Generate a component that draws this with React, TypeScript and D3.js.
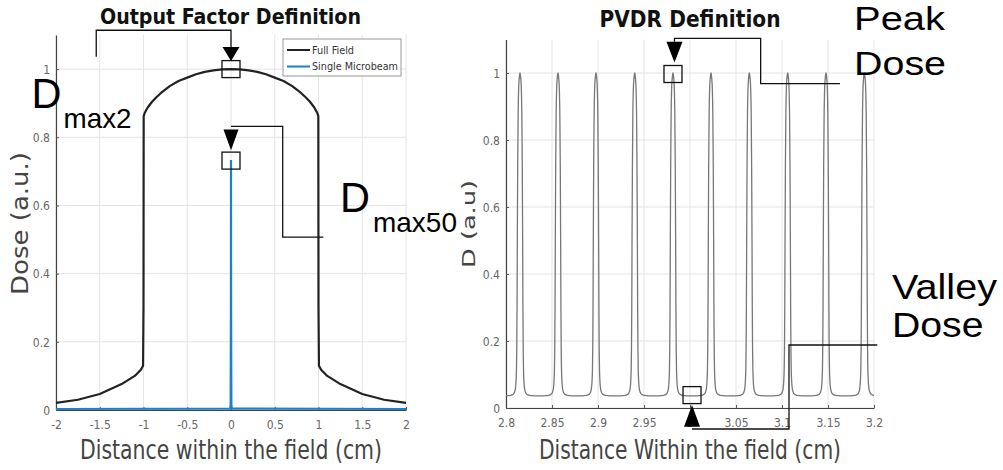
import React, { useEffect, useRef } from "react";
import * as d3 from "d3";

// ---- data ----
const fullFieldX = [
  -2, -1.75, -1.5, -1.25, -1.1, -1.03, -1.005, -1.0, -0.998, -0.985, -0.97, -0.95, -0.9, -0.85,
  -0.8, -0.7, -0.6, -0.5, -0.4, -0.3, -0.2, -0.1, 0, 0.1, 0.2, 0.3, 0.4, 0.5, 0.6, 0.7, 0.8, 0.85,
  0.9, 0.95, 0.97, 0.985, 0.998, 1.0, 1.005, 1.03, 1.1, 1.25, 1.5, 1.75, 2,
];
const fullFieldDose = [
  0.021, 0.03, 0.047, 0.076, 0.1, 0.118, 0.13, 0.3, 0.862, 0.872, 0.879, 0.888, 0.905, 0.918,
  0.93, 0.95, 0.965, 0.975, 0.985, 0.992, 0.996, 0.999, 1.0, 0.999, 0.996, 0.992, 0.985, 0.975,
  0.965, 0.95, 0.93, 0.918, 0.905, 0.888, 0.879, 0.872, 0.862, 0.3, 0.13, 0.118, 0.1, 0.076,
  0.047, 0.03, 0.021,
];
const microbeamX = [-2, -0.01, -0.004, -0.001, 0, 0.001, 0.004, 0.01, 2];
const microbeamDose = [0.003, 0.004, 0.015, 0.3, 0.733, 0.3, 0.015, 0.004, 0.003];

const peakCenters = [
  2.8152, 2.8565, 2.8978, 2.9399, 2.9815, 3.0228, 3.0645, 3.1062, 3.1478, 3.1895,
];
// half profile of one microbeam peak: distance from centre (cm) and dose
const peakOffset = [
  0, 0.0008, 0.0015, 0.002, 0.0025, 0.0029, 0.0032, 0.0035, 0.0038, 0.0043, 0.005, 0.006,
  0.0075, 0.01, 0.0208,
];
const peakDose = [
  1.0, 0.985, 0.95, 0.88, 0.72, 0.5, 0.3, 0.18, 0.12, 0.08, 0.058, 0.047, 0.041, 0.038, 0.036,
];
const valleyX = 3.0022;
const valleyDose = 0.037;

const leftXTicks = [-2, -1.5, -1, -0.5, 0, 0.5, 1, 1.5, 2];
const leftYTicks = [0, 0.2, 0.4, 0.6, 0.8, 1];
const rightXTicks = [2.8, 2.85, 2.9, 2.95, 3, 3.05, 3.1, 3.15, 3.2];
const rightYTicks = [0, 0.2, 0.4, 0.6, 0.8, 1];

const legendLabels = ["Full Field", "Single Microbeam"];

const W = 1003;
const H = 470;
const FULL_COLOR = "#222";
const BEAM_COLOR = "#1f7fcf";
const TEXT_FONT = "'Liberation Sans', Arial, sans-serif";
const COND_FONT = "'DejaVu Sans Condensed', 'DejaVu Sans', sans-serif";

const App: React.FC = () => {
  const svgRef = useRef<SVGSVGElement | null>(null);

  useEffect(() => {
    if (!svgRef.current) return;
    const svg = d3.select(svgRef.current);
    svg.selectAll("*").remove();

    const xL = d3.scaleLinear().domain([-2, 2]).range([56, 406]);
    const yL = d3.scaleLinear().domain([0, 1.1]).range([410, 35]);
    const xR = d3.scaleLinear().domain([2.8, 3.2]).range([506, 874]);
    const yR = d3.scaleLinear().domain([0, 1.1]).range([408, 39.5]);

    const fmt = (d: number) => `${d}`;

    const drawFrame = (
      x: d3.ScaleLinear<number, number>,
      y: d3.ScaleLinear<number, number>,
      xt: number[],
      yt: number[]
    ) => {
      const [x0, x1] = x.range();
      const [y0, y1] = y.range();
      const g = svg.append("g");
      // grid
      g.selectAll(".gx")
        .data(xt)
        .join("line")
        .attr("x1", (d) => x(d))
        .attr("x2", (d) => x(d))
        .attr("y1", y0)
        .attr("y2", y1)
        .attr("stroke", "#e4e4e4")
        .attr("stroke-width", 1);
      g.selectAll(".gy")
        .data(yt)
        .join("line")
        .attr("x1", x0)
        .attr("x2", x1)
        .attr("y1", (d) => y(d))
        .attr("y2", (d) => y(d))
        .attr("stroke", "#e4e4e4")
        .attr("stroke-width", 1);

      // axes
      const ax = g
        .append("g")
        .attr("transform", `translate(0,${y0})`)
        .call(d3.axisBottom(x).tickValues(xt).tickFormat(fmt as any).tickSizeInner(-3).tickSizeOuter(0).tickPadding(10));
      const ay = g
        .append("g")
        .attr("transform", `translate(${x0},0)`)
        .call(d3.axisLeft(y).tickValues(yt).tickFormat(fmt as any).tickSizeInner(-3).tickSizeOuter(0).tickPadding(6));
      [ax, ay].forEach((a) => {
        a.select(".domain").attr("stroke", "#444").attr("stroke-width", 1.2);
        a.selectAll(".tick line").attr("stroke", "#555");
        a.selectAll("text")
          .attr("font-family", COND_FONT)
          .attr("font-size", 12)
          .attr("fill", "#666");
      });
      ay.selectAll("text").attr("dy", "0.35em");
    };

    drawFrame(xL, yL, leftXTicks, leftYTicks);
    drawFrame(xR, yR, rightXTicks, rightYTicks);

    // ---- left panel curves ----
    const lineL = d3
      .line<number>()
      .x((_, i) => xL(fullFieldX[i]))
      .y((d) => yL(d));
    svg
      .append("path")
      .attr("d", lineL(fullFieldDose))
      .attr("fill", "none")
      .attr("stroke", FULL_COLOR)
      .attr("stroke-width", 2.2)
      .attr("stroke-linejoin", "round");

    const beamLine = d3
      .line<number>()
      .x((_, i) => xL(microbeamX[i]))
      .y((d) => yL(d));
    svg
      .append("path")
      .attr("d", beamLine(microbeamDose))
      .attr("fill", "none")
      .attr("stroke", BEAM_COLOR)
      .attr("stroke-width", 2.2);

    // legend
    const lg = svg.append("g").attr("transform", "translate(283,39)");
    lg.append("rect")
      .attr("width", 118)
      .attr("height", 37)
      .attr("fill", "#fff")
      .attr("stroke", "#999")
      .attr("stroke-width", 1);
    legendLabels.forEach((lab, i) => {
      const row = lg.append("g").attr("transform", `translate(0,${11 + i * 16.5})`);
      row
        .append("line")
        .attr("x1", 4)
        .attr("x2", 27)
        .attr("stroke", i === 0 ? FULL_COLOR : BEAM_COLOR)
        .attr("stroke-width", 2);
      row
        .append("text")
        .attr("x", 29)
        .attr("y", 3.5)
        .attr("font-family", COND_FONT)
        .attr("font-size", 10)
        .attr("fill", "#333")
        .attr("textLength", i === 0 ? 42 : 86)
        .attr("lengthAdjust", "spacingAndGlyphs")
        .text(lab);
    });

    // ---- right panel curve ----
    const pts: [number, number][] = [];
    peakCenters.forEach((c) => {
      for (let k = peakOffset.length - 1; k > 0; k--) pts.push([c - peakOffset[k], peakDose[k]]);
      for (let k = 0; k < peakOffset.length; k++) pts.push([c + peakOffset[k], peakDose[k]]);
    });
    pts.sort((a, b) => a[0] - b[0]);
    svg
      .append("clipPath")
      .attr("id", "clipR")
      .append("rect")
      .attr("x", xR(2.8))
      .attr("y", yR(1.1))
      .attr("width", xR(3.2) - xR(2.8))
      .attr("height", yR(0) - yR(1.1));
    svg
      .append("path")
      .attr("clip-path", "url(#clipR)")
      .attr("d", d3.line<[number, number]>().x((d) => xR(d[0])).y((d) => yR(d[1])).curve(d3.curveMonotoneX)(pts))
      .attr("fill", "none")
      .attr("stroke", "#777")
      .attr("stroke-width", 1.3);

    // ---- annotations ----
    const ann = svg.append("g").attr("fill", "none").attr("stroke", "#111").attr("stroke-width", 1.3);
    const box = (cx: number, cy: number) =>
      ann.append("rect").attr("x", cx - 9).attr("y", cy - 8.5).attr("width", 18).attr("height", 17);
    const arrow = (cx: number, base: number, tip: number, half: number) =>
      svg
        .append("path")
        .attr("d", `M${cx - half},${base}L${cx + half},${base}L${cx},${tip}Z`)
        .attr("fill", "#000");
    const poly = (p: [number, number][]) =>
      ann.append("path").attr("d", d3.line()(p));

    // Dmax2
    box(xL(0), yL(1.0));
    poly([
      [xL(-1.54), yL(1.036)],
      [xL(-1.54), yL(1.114)],
      [xL(0), yL(1.114)],
      [xL(0), yL(1.062)],
    ]);
    arrow(xL(0), yL(1.065), yL(1.024), 8.5);

    // Dmax50
    box(xL(0), yL(0.733) + 0.5);
    poly([
      [xL(0), yL(0.832)],
      [xL(0.591), yL(0.832)],
      [xL(0.591), yL(0.507)],
      [xL(1.055), yL(0.507)],
    ]);
    arrow(xL(0), yL(0.823), yL(0.762), 7.5);

    // peak dose
    box(xR(peakCenters[4]), yR(1.0) + 1);
    poly([
      [xR(peakCenters[4]) + 1.5, yR(1.093)],
      [xR(peakCenters[4]) + 1.5, yR(1.1036)],
      [xR(3.0768), yR(1.1036)],
      [xR(3.0768), yR(0.968)],
      [xR(3.163), yR(0.968)],
    ]);
    arrow(xR(peakCenters[4]) + 1.5, yR(1.093), yR(1.031), 8);

    // valley dose
    box(xR(valleyX), yR(valleyDose) - 0.5);
    poly([
      [xR(valleyX), yR(-0.0627)],
      [xR(3.1076), yR(-0.0627)],
      [xR(3.1076), yR(0.188)],
      [xR(3.2036), yR(0.188)],
    ]);
    arrow(xR(valleyX), yR(-0.056), yR(0.009), 8);

    // ---- text ----
    const txt = (
      s: string,
      x: number,
      y: number,
      size: number,
      len: number,
      opts: { font?: string; weight?: string; fill?: string; anchor?: string; rotate?: boolean } = {}
    ) =>
      svg
        .append("text")
        .attr("x", opts.rotate ? 0 : x)
        .attr("y", opts.rotate ? 0 : y)
        .attr("transform", opts.rotate ? `translate(${x},${y}) rotate(-90)` : null)
        .attr("font-family", opts.font ?? TEXT_FONT)
        .attr("font-weight", opts.weight ?? "normal")
        .attr("font-size", size)
        .attr("fill", opts.fill ?? "#000")
        .attr("text-anchor", opts.anchor ?? "start")
        .attr("textLength", len)
        .attr("lengthAdjust", "spacingAndGlyphs")
        .text(s);

    // titles
    txt("Output Factor Definition", 230.5, 24, 21.5, 261, { font: COND_FONT, weight: "bold", fill: "#111", anchor: "middle" });
    txt("PVDR Definition", 690, 26.5, 23, 181, { font: COND_FONT, weight: "bold", fill: "#111", anchor: "middle" });

    // axis labels
    txt("Distance within the field (cm)", 231, 459, 26, 302, { font: COND_FONT, fill: "#444", anchor: "middle" });
    txt("Distance Within the field (cm)", 690, 459, 26, 302, { font: COND_FONT, fill: "#444", anchor: "middle" });
    txt("Dose (a.u.)", 28, 223.5, 23, 143, { font: COND_FONT, fill: "#444", anchor: "middle", rotate: true });
    txt("D (a.u)", 475, 224, 18, 88, { font: COND_FONT, fill: "#444", anchor: "middle", rotate: true });

    // annotation labels
    txt("D", 31.5, 108.3, 43, 30);
    txt("max2", 63.5, 127.5, 28, 68);
    txt("D", 340, 211.7, 42, 30);
    txt("max50", 373, 232, 28, 84);
    txt("Peak", 854, 30, 33, 91);
    txt("Dose", 854, 75, 34, 92);
    txt("Valley", 892, 299, 35, 105);
    txt("Dose", 892, 336.7, 35, 91.5);
  }, []);

  return (
    <svg
      ref={svgRef}
      width={W}
      height={H}
      style={{ position: "absolute", left: 0, top: 0, background: "#fff" }}
    />
  );
};

export default App;
